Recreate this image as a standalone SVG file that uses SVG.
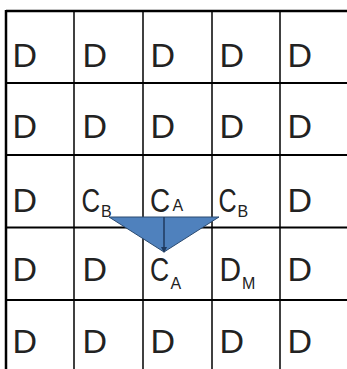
<svg xmlns="http://www.w3.org/2000/svg" width="347" height="369" viewBox="0 0 347 369">
<defs>
<style>
.t{font-family:"Liberation Sans",Arial,sans-serif;font-size:34px;fill:#222}
.s{font-family:"Liberation Sans",Arial,sans-serif;font-size:16px;fill:#222}
.h{stroke:#000;stroke-width:2}
.v{stroke:#000;stroke-width:1.5}
</style>
<marker id="ah" viewBox="0 0 6 6" refX="3" refY="3" markerWidth="4" markerHeight="4" orient="auto"><path d="M0,0 L6,3 L0,6 Z" fill="#1f3a5f"/></marker>
</defs>
<rect x="0" y="0" width="347" height="369" fill="#fff"/>
<g id="grid">
<line x1="6" y1="11" x2="347" y2="11" stroke="#000" stroke-width="2.5"/>
<line x1="6" y1="10" x2="6" y2="369" stroke="#000" stroke-width="2.5"/>
<line class="h" x1="6" y1="83" x2="347" y2="83"/>
<line class="h" x1="6" y1="155" x2="347" y2="155"/>
<line class="h" x1="6" y1="227.5" x2="347" y2="227.5"/>
<line class="h" x1="6" y1="300" x2="347" y2="300"/>
<line class="v" x1="74" y1="11" x2="74" y2="369"/>
<line class="v" x1="143" y1="11" x2="143" y2="369"/>
<line class="v" x1="212" y1="11" x2="212" y2="369"/>
<line class="v" x1="280" y1="11" x2="280" y2="369"/>
</g>
<g id="row1">
<text class="t" x="12.5" y="67">D</text><text class="t" x="82.5" y="67">D</text><text class="t" x="150.5" y="67">D</text><text class="t" x="219.5" y="67">D</text><text class="t" x="287.5" y="67">D</text>
</g>
<g id="row2">
<text class="t" x="12.5" y="138">D</text><text class="t" x="82.5" y="138">D</text><text class="t" x="150.5" y="138">D</text><text class="t" x="219.5" y="138">D</text><text class="t" x="287.5" y="138">D</text>
</g>
<g id="row3">
<text class="t" x="12.5" y="212">D</text>
<g id="cb1"><text class="t" transform="translate(81.5,212) scale(0.76,1)">C</text><text class="s" x="101" y="217">B</text></g>
<g id="ca1"><text class="t" transform="translate(150,212) scale(0.82,1)">C</text><text class="s" x="172.5" y="211">A</text></g>
<g id="cb2"><text class="t" transform="translate(218.5,212) scale(0.74,1)">C</text><text class="s" x="237.5" y="217">B</text></g>
<text class="t" x="287.5" y="212">D</text>
</g>
<g id="row4">
<text class="t" x="12.5" y="281">D</text><text class="t" x="82.5" y="281">D</text>
<g id="ca2"><text class="t" transform="translate(150,281) scale(0.78,1)">C</text><text class="s" x="170.5" y="289">A</text></g>
<g id="dm"><text class="t" transform="translate(219.5,281) scale(0.88,1)">D</text><text class="s" x="242" y="289">M</text></g>
<text class="t" x="287.5" y="281">D</text>
</g>
<g id="row5">
<text class="t" x="12.5" y="353">D</text><text class="t" x="82.5" y="353">D</text><text class="t" x="150.5" y="353">D</text><text class="t" x="219.5" y="353">D</text><text class="t" x="287.5" y="353">D</text>
</g>
<g id="connectors">
<polygon points="109,217 219,217 164,252" fill="#4f81bd" stroke="#2b4a70" stroke-width="1"/>
<line x1="164" y1="217" x2="164" y2="250" stroke="#1f3a5f" stroke-width="1.5" marker-end="url(#ah)"/>
</g>
</svg>
